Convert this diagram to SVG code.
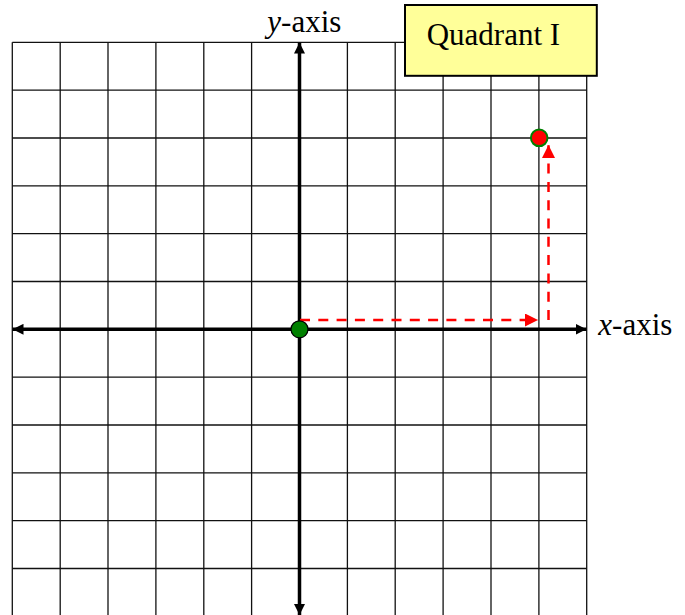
<svg xmlns="http://www.w3.org/2000/svg" width="685" height="615" viewBox="0 0 685 615">
<style>
.grid line{stroke:#111;stroke-width:1.3}
.axis{stroke:#000;stroke-width:3.5}
.dash{stroke:#ff0000;stroke-width:2.5;stroke-dasharray:10 8.3;fill:none}
.lbl{font-family:"Liberation Serif",serif;font-size:31px;fill:#000}
</style>
<defs>
<marker id="ah" viewBox="0 0 10 10" refX="10" refY="5" markerWidth="11" markerHeight="11" markerUnits="userSpaceOnUse" orient="auto"><path d="M0,0 L10,5 L0,10 z" fill="#000"/></marker>
<marker id="rh" viewBox="0 0 10 10" refX="10" refY="5" markerWidth="15" markerHeight="13" markerUnits="userSpaceOnUse" orient="auto"><path d="M0,0 L10,5 L0,10 z" fill="#ff0000"/></marker>
</defs>
<rect width="685" height="615" fill="#fff"/>
<g id="grid" class="grid">
<line x1="12.3" y1="42.3" x2="12.3" y2="615"/>
<line x1="60.2" y1="42.3" x2="60.2" y2="615"/>
<line x1="108" y1="42.3" x2="108" y2="615"/>
<line x1="155.9" y1="42.3" x2="155.9" y2="615"/>
<line x1="203.8" y1="42.3" x2="203.8" y2="615"/>
<line x1="251.6" y1="42.3" x2="251.6" y2="615"/>
<line x1="347.4" y1="42.3" x2="347.4" y2="615"/>
<line x1="395.2" y1="42.3" x2="395.2" y2="615"/>
<line x1="443.1" y1="42.3" x2="443.1" y2="615"/>
<line x1="491" y1="42.3" x2="491" y2="615"/>
<line x1="538.9" y1="42.3" x2="538.9" y2="615"/>
<line x1="586.7" y1="42.3" x2="586.7" y2="615"/>
<line x1="12.3" y1="42.3" x2="586.7" y2="42.3"/>
<line x1="12.3" y1="90.1" x2="586.7" y2="90.1"/>
<line x1="12.3" y1="138" x2="586.7" y2="138"/>
<line x1="12.3" y1="185.8" x2="586.7" y2="185.8"/>
<line x1="12.3" y1="233.6" x2="586.7" y2="233.6"/>
<line x1="12.3" y1="281.5" x2="586.7" y2="281.5"/>
<line x1="12.3" y1="377.1" x2="586.7" y2="377.1"/>
<line x1="12.3" y1="425" x2="586.7" y2="425"/>
<line x1="12.3" y1="472.8" x2="586.7" y2="472.8"/>
<line x1="12.3" y1="520.6" x2="586.7" y2="520.6"/>
<line x1="12.3" y1="568.5" x2="586.7" y2="568.5"/>
</g>
<g id="connectors">
<line class="axis" x1="299.5" y1="329.3" x2="299.5" y2="42.5" marker-end="url(#ah)"/>
<line class="axis" x1="299.5" y1="329.3" x2="299.5" y2="615" marker-end="url(#ah)"/>
<line class="axis" x1="299.5" y1="329.3" x2="12.5" y2="329.3" marker-end="url(#ah)"/>
<line class="axis" x1="299.5" y1="329.3" x2="586.5" y2="329.3" marker-end="url(#ah)"/>
<line class="dash" x1="300" y1="320" x2="538" y2="320" marker-end="url(#rh)"/>
<line class="dash" x1="548.5" y1="320" x2="548.5" y2="145" marker-end="url(#rh)"/>
</g>
<g id="origin"><circle cx="299.5" cy="329.3" r="8.5" fill="#008000" stroke="#000" stroke-width="1.2"/></g>
<g id="point"><circle cx="539.2" cy="137.8" r="8.3" fill="#ff0000" stroke="#008000" stroke-width="2"/></g>
<g id="y-label"><text class="lbl" x="267.3" y="32"><tspan font-style="italic">y</tspan>-axis</text></g>
<g id="x-label"><text class="lbl" x="598.3" y="335"><tspan font-style="italic">x</tspan>-axis</text></g>
<g id="quadrant">
<rect x="405" y="5" width="191.8" height="70.8" fill="#ffff99" stroke="#000" stroke-width="2"/>
<text class="lbl" x="426.7" y="45">Quadrant I</text>
</g>
</svg>
